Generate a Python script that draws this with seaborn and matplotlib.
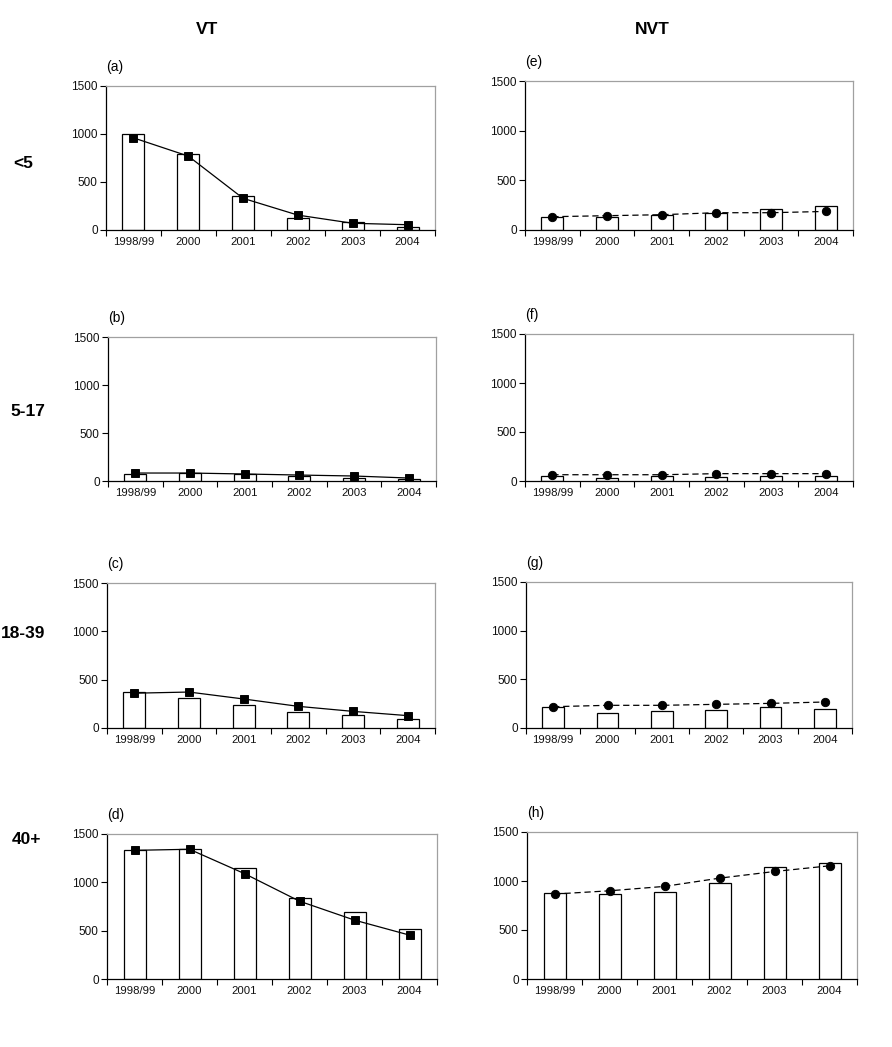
import matplotlib
matplotlib.use("Agg")
import matplotlib.pyplot as plt
import seaborn as sns

years = ["1998/99", "2000", "2001", "2002", "2003", "2004"]
age_groups = ["<5", "5-17", "18-39", "40+"]

# VT serotypes: bars (observed) and squares/solid line
vt_bars_lt5 = [1000, 790, 355, 125, 80, 35]
vt_line_lt5 = [960, 770, 330, 155, 70, 55]
vt_bars_5_17 = [70, 80, 70, 55, 35, 25]
vt_line_5_17 = [83, 83, 73, 62, 52, 31]
vt_bars_18_39 = [372, 307, 234, 162, 131, 93]
vt_line_18_39 = [360, 372, 300, 224, 172, 128]
vt_bars_40 = [1338, 1348, 1152, 843, 698, 513]
vt_line_40 = [1331, 1342, 1090, 805, 609, 454]

# NVT serotypes: bars and circles/dashed line
nvt_bars_lt5 = [130, 128, 154, 172, 214, 244]
nvt_line_lt5 = [134, 144, 154, 174, 174, 187]
nvt_bars_5_17 = [54, 30, 54, 41, 54, 54]
nvt_line_5_17 = [64, 64, 64, 75, 75, 75]
nvt_bars_18_39 = [212, 151, 175, 185, 212, 192]
nvt_line_18_39 = [219, 233, 233, 243, 253, 267]
nvt_bars_40 = [874, 863, 884, 982, 1141, 1188]
nvt_line_40 = [867, 900, 945, 1029, 1097, 1155]

sns.set_theme(style="white")
plt.rcParams["font.family"] = ["Liberation Sans", "DejaVu Sans"]
plt.rcParams["text.color"] = "black"

W, H = 892, 1047
fig = plt.figure(figsize=(W / 100, H / 100), dpi=100)

# pixel boxes (left, top, right, bottom) for each panel
boxes_vt = [(106, 86, 435, 230), (108, 337, 436, 481), (107, 583, 435, 728), (107, 834, 437, 979)]
boxes_nvt = [(525, 81, 853, 230), (525, 334, 853, 481), (526, 582, 852, 728), (527, 832, 857, 979)]

vt_bars = [vt_bars_lt5, vt_bars_5_17, vt_bars_18_39, vt_bars_40]
vt_lines = [vt_line_lt5, vt_line_5_17, vt_line_18_39, vt_line_40]
nvt_bars = [nvt_bars_lt5, nvt_bars_5_17, nvt_bars_18_39, nvt_bars_40]
nvt_lines = [nvt_line_lt5, nvt_line_5_17, nvt_line_18_39, nvt_line_40]
letters_vt = ["(a)", "(b)", "(c)", "(d)"]
letters_nvt = ["(e)", "(f)", "(g)", "(h)"]


def make_axes(box):
    l, t, r, b = box
    return fig.add_axes([l / W, 1 - b / H, (r - l) / W, (b - t) / H])


def draw_panel(ax, bars, line, letter, marker, ls, msize):
    sns.barplot(x=years, y=bars, ax=ax, width=0.4, color="white",
                edgecolor="black", linewidth=0.9, errorbar=None)
    sns.pointplot(x=years, y=line, ax=ax, color="black", markers=marker,
                  linestyles=ls, errorbar=None, markersize=msize, linewidth=0.9)
    ax.set_ylim(0, 1500)
    ax.set_xlim(-0.5, 5.5)
    ax.set_yticks([0, 500, 1000, 1500])
    ax.set_xticks(range(6))
    ax.set_xticklabels(years)
    ax.set_xticks([i - 0.5 for i in range(7)], minor=True)
    ax.tick_params(axis="x", which="major", length=0, labelsize=8.2, pad=5, labelcolor="#111111")
    ax.tick_params(axis="x", which="minor", length=4, width=0.8, color="black", direction="out", bottom=True)
    ax.tick_params(axis="y", length=4, width=0.8, color="black", direction="out", left=True,
                   labelsize=8.5, pad=2, labelcolor="#111111")
    ax.set_xlabel("")
    ax.set_ylabel("")
    for side in ["left", "bottom"]:
        ax.spines[side].set_color("black")
        ax.spines[side].set_linewidth(0.9)
    for side in ["top", "right"]:
        ax.spines[side].set_color("#a0a0a0")
        ax.spines[side].set_linewidth(0.9)
    if ls == "--":
        for line2d in ax.lines:
            line2d.set_dashes((5, 3))
    ax.text(0.0, 1.08, letter, transform=ax.transAxes, fontsize=10, ha="left", va="bottom")


for i in range(4):
    ax = make_axes(boxes_vt[i])
    draw_panel(ax, vt_bars[i], vt_lines[i], letters_vt[i], "s", "-", 6)
    ax = make_axes(boxes_nvt[i])
    draw_panel(ax, nvt_bars[i], nvt_lines[i], letters_nvt[i], "o", "--", 6)

# column titles and row labels
fig.text(207 / W, 1 - 30 / H, "VT", fontsize=12.5, fontweight="bold", ha="center", va="center")
fig.text(652 / W, 1 - 30 / H, "NVT", fontsize=12.5, fontweight="bold", ha="center", va="center")
row_y = [163, 412, 633, 840]
row_x = [23, 28, 23, 27]
for lab, x, y in zip(age_groups, row_x, row_y):
    fig.text(x / W, 1 - y / H, lab, fontsize=12.5, fontweight="bold", ha="center", va="center")

fig.savefig("out.png", dpi=100, facecolor="white")
